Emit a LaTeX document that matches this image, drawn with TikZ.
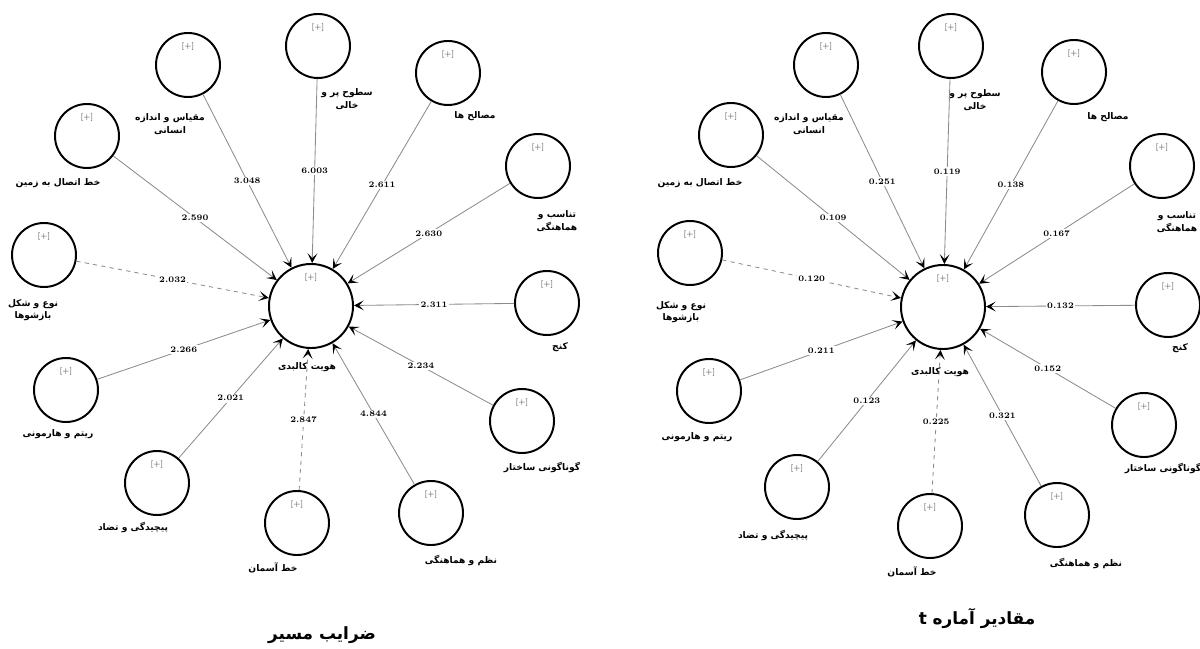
\documentclass[tikz,border=0pt]{standalone}
\usepackage{fontspec}
\usetikzlibrary{arrows.meta}
\newfontfamily\farsi[Script=Arabic]{DejaVu Sans}
\TeXXeTstate=1
\newcommand\fatxt[1]{\beginR #1\endR}

\begin{document}
\begin{tikzpicture}[x=0.025cm, y=-0.025cm,
  plus/.style={font=\fontsize{5.5}{6}\selectfont, text=black!80},
  latent/.style={circle, draw, line width=1.4pt, minimum size=1.6cm, inner sep=0pt,
    label={[plus, yshift=0.47cm]center:{[+]}}},
  target/.style={circle, draw, line width=1.4pt, minimum size=2.1cm, inner sep=0pt,
    label={[plus, yshift=0.7cm]center:{[+]}}},
  ltext/.style={font=\farsi\bfseries\fontsize{6.5}{9}\selectfont, align=center, inner sep=0pt},
  link/.style={draw=black!45, line width=0.6pt,
    -{Stealth[length=7pt, width=7pt, inset=3.5pt, black]}},
  val/.style={fill=white, inner sep=1pt, font=\fontsize{6}{7}\selectfont\bfseries},
  ttl/.style={font=\farsi\bfseries\fontsize{12}{14}\selectfont}]
\useasboundingbox (0,0) rectangle (1200,649);

% left: path coefficients
\node[target] (L0) at (311,306) {};
\node[latent] (L1) at (87,136) {};
\node[latent] (L2) at (188,65) {};
\node[latent] (L3) at (318,46) {};
\node[latent] (L4) at (448,73) {};
\node[latent] (L5) at (538,166) {};
\node[latent] (L6) at (547,303) {};
\node[latent] (L7) at (522,421) {};
\node[latent] (L8) at (431,513) {};
\node[latent] (L9) at (297,523) {};
\node[latent] (L10) at (157,483) {};
\node[latent] (L11) at (66,390) {};
\node[latent] (L12) at (44,255) {};
\node[ltext] (L0n) at (307,367) {\fatxt{هویت کالبدی}};
\node[ltext] (L1n) at (58,183) {\fatxt{خط اتصال به زمین}};
\node[ltext] (L2n) at (170,124) {\fatxt{مقیاس و اندازه}\\\fatxt{انسانی}};
\node[ltext] (L3n) at (347,99) {\fatxt{سطوح پر و}\\\fatxt{خالی}};
\node[ltext] (L4n) at (475,116) {\fatxt{مصالح ها}};
\node[ltext] (L5n) at (557,221) {\fatxt{تناسب و}\\\fatxt{هماهنگی}};
\node[ltext] (L6n) at (560,347) {\fatxt{کنج}};
\node[ltext] (L7n) at (542,467) {\fatxt{گوناگونی ساختار}};
\node[ltext] (L8n) at (461,560) {\fatxt{نظم و هماهنگی}};
\node[ltext] (L9n) at (273,568) {\fatxt{خط آسمان}};
\node[ltext] (L10n) at (133,527) {\fatxt{پیچیدگی و تضاد}};
\node[ltext] (L11n) at (58,434) {\fatxt{ریتم و هارمونی}};
\node[ltext] (L12n) at (33,310) {\fatxt{نوع و شکل}\\\fatxt{بازشوها}};
\draw[link] (L1) -- node[val] {2.590} (L0);
\draw[link] (L2) -- node[val] {3.048} (L0);
\draw[link] (L3) -- node[val] {6.003} (L0);
\draw[link] (L4) -- node[val] {2.611} (L0);
\draw[link] (L5) -- node[val] {2.630} (L0);
\draw[link] (L6) -- node[val] {2.311} (L0);
\draw[link] (L7) -- node[val] {2.234} (L0);
\draw[link] (L8) -- node[val] {4.844} (L0);
\draw[link, dashed] (L9) -- node[val] {2.847} (L0);
\draw[link] (L10) -- node[val] {2.021} (L0);
\draw[link] (L11) -- node[val] {2.266} (L0);
\draw[link, dashed] (L12) -- node[val] {2.032} (L0);
\node[ttl] (Lt) at (322,635) {\fatxt{ضرایب مسیر}};

% right: t values
\node[target] (R0) at (943,307) {};
\node[latent] (R1) at (731,135) {};
\node[latent] (R2) at (826,65) {};
\node[latent] (R3) at (951,46) {};
\node[latent] (R4) at (1074,72) {};
\node[latent] (R5) at (1162,166) {};
\node[latent] (R6) at (1168,305) {};
\node[latent] (R7) at (1144,425) {};
\node[latent] (R8) at (1057,515) {};
\node[latent] (R9) at (930,526) {};
\node[latent] (R10) at (797,487) {};
\node[latent] (R11) at (709,391) {};
\node[latent] (R12) at (690,253) {};
\node[ltext] (R0n) at (940,372) {\fatxt{هویت کالبدی}};
\node[ltext] (R1n) at (700,183) {\fatxt{خط اتصال به زمین}};
\node[ltext] (R2n) at (809,124) {\fatxt{مقیاس و اندازه}\\\fatxt{انسانی}};
\node[ltext] (R3n) at (975,100) {\fatxt{سطوح پر و}\\\fatxt{خالی}};
\node[ltext] (R4n) at (1108,117) {\fatxt{مصالح ها}};
\node[ltext] (R5n) at (1177,222) {\fatxt{تناسب و}\\\fatxt{هماهنگی}};
\node[ltext] (R6n) at (1180,348) {\fatxt{کنج}};
\node[ltext] (R7n) at (1163,468) {\fatxt{گوناگونی ساختار}};
\node[ltext] (R8n) at (1086,563) {\fatxt{نظم و هماهنگی}};
\node[ltext] (R9n) at (912,572) {\fatxt{خط آسمان}};
\node[ltext] (R10n) at (773,535) {\fatxt{پیچیدگی و تضاد}};
\node[ltext] (R11n) at (697,437) {\fatxt{ریتم و هارمونی}};
\node[ltext] (R12n) at (681,312) {\fatxt{نوع و شکل}\\\fatxt{بازشوها}};
\draw[link] (R1) -- node[val] {0.109} (R0);
\draw[link] (R2) -- node[val] {0.251} (R0);
\draw[link] (R3) -- node[val] {0.119} (R0);
\draw[link] (R4) -- node[val] {0.138} (R0);
\draw[link] (R5) -- node[val] {0.167} (R0);
\draw[link] (R6) -- node[val] {0.132} (R0);
\draw[link] (R7) -- node[val] {0.152} (R0);
\draw[link] (R8) -- node[val] {0.321} (R0);
\draw[link, dashed] (R9) -- node[val] {0.225} (R0);
\draw[link] (R10) -- node[val] {0.123} (R0);
\draw[link] (R11) -- node[val] {0.211} (R0);
\draw[link, dashed] (R12) -- node[val] {0.120} (R0);
\node[ttl] (Rt) at (977,618) {\fatxt{مقادیر آماره t}};
\end{tikzpicture}
\end{document}
